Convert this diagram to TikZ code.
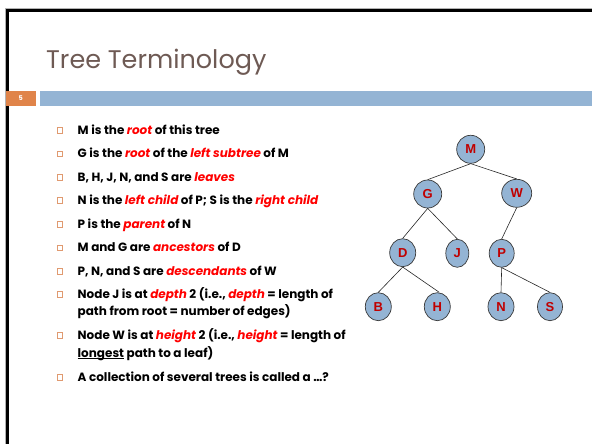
\documentclass[tikz,border=0pt]{standalone}
\usepackage{fontspec}
\setmainfont{Poppins}
\newfontfamily\arialfont{Liberation Sans}
\usetikzlibrary{shapes.geometric}
\definecolor{titlec}{HTML}{6E5A54}
\definecolor{barblue}{HTML}{94B4D4}
\definecolor{barorange}{HTML}{E0844A}
\definecolor{emred}{HTML}{FF0000}
\definecolor{bulc}{HTML}{E09A70}
\definecolor{nodefill}{HTML}{94B4D4}
\definecolor{nodeedge}{HTML}{3A3A3A}
\definecolor{nodetext}{HTML}{C00000}
\newcommand{\rd}[1]{{\color{emred}\itshape #1}}
\newcommand{\ulx}[1]{\setbox0\hbox{#1}\rlap{\rule[-1.8pt]{\wd0}{0.7pt}}\box0\relax}
\tikzset{
  txt/.style={anchor=base west, inner sep=0pt, font=\fontsize{12}{14}\selectfont\bfseries, text=black},
  bul/.style={draw=bulc, line width=0.6pt, minimum size=5.5pt, inner sep=0pt},
  tn/.style={ellipse, draw=nodeedge, line width=0.7pt, fill=nodefill, inner sep=0pt,
     minimum height=28pt, minimum width=26pt, font=\arialfont\bfseries\fontsize{13}{13}\selectfont, text=nodetext},
  edge/.style={draw=black!85, line width=0.6pt}
}
\begin{document}
\begin{tikzpicture}[x=1pt,y=-1pt]
\useasboundingbox (0,0) rectangle (592,444);
% frame
\draw[gray!60, line width=1pt] (5,444) -- (5,8.8) -- (592,8.8);
\draw[black, line width=2.6pt] (7.5,444) -- (7.5,10.5) -- (592,10.5);
% bars
\fill[barorange] (6,91) rectangle (36,106);
\fill[barblue] (40,91) rectangle (592,106);
\node[font=\bfseries\fontsize{6.5}{7}\selectfont, text=white, inner sep=0pt] (num) at (20.7,98.5) {5};
% title
\node[anchor=base west, inner sep=0pt, font=\fontsize{25.5}{28}\selectfont, text=titlec] (title) at (46,69) {Tree Terminology};
% bullets text
\node[txt] (t1) at (77.5,134.3) {M is the \rd{root} of this tree};
\node[txt] (t2) at (77.5,157.5) {G is the \rd{root} of the \rd{left subtree} of M};
\node[txt] (t3) at (77.5,181) {B, H, J, N, and S are \rd{leaves}};
\node[txt] (t4) at (77.5,204.3) {N is the \rd{left child} of P; S is the \rd{right child}};
\node[txt] (t5) at (77.5,228) {P is the \rd{parent} of N};
\node[txt] (t6) at (77.5,251.5) {M and G are \rd{ancestors} of D};
\node[txt] (t7) at (77.5,275) {P, N, and S are \rd{descendants} of W};
\node[txt] (t8) at (77.5,298.3) {Node J is at \rd{depth} 2 (i.e., \rd{depth} = length of};
\node[txt] (t8b) at (77.5,315) {path from root = number of edges)};
\node[txt] (t9) at (77.5,339) {Node W is at \rd{height} 2 (i.e., \rd{height} = length of};
\node[txt] (t9b) at (77.5,357) {\ulx{longest} path to a leaf)};
\node[txt] (t10) at (77.5,381) {A collection of several trees is called a \dots?};
\foreach \y [count=\i] in {134.3,157.5,181,204.3,228,251.5,275,298.3,339,381}
  \node[bul] (b\i) at (60,\y-3.8) {};
% tree
\node[tn, minimum width=28pt] (M) at (470.7,149.3) {M};
\node[tn, minimum width=28pt] (G) at (427.7,194) {G};
\node[tn, minimum width=30pt] (W) at (516.7,193.3) {W};
\node[tn] (D) at (402.7,252.7) {D};
\node[tn, minimum width=23pt] (J) at (457.3,253.3) {J};
\node[tn, minimum width=25pt] (P) at (501.7,253.3) {P};
\node[tn] (B) at (378.3,306.7) {B};
\node[tn] (H) at (437.3,306.7) {H};
\node[tn] (N) at (501,306.7) {N};
\node[tn, minimum width=25pt] (S) at (550,306.7) {S};
\draw[edge] (M.south) -- (G.north);
\draw[edge] (M.south) -- (W.north);
\draw[edge] (G.south) -- (D.north);
\draw[edge] (G.south) -- (J.north);
\draw[edge] (W.south) -- (P.north);
\draw[edge] (D.south) -- (B.north);
\draw[edge] (D.south) -- ([xshift=2pt]H.north);
\draw[edge] (P.south) -- (N.north);
\draw[edge] (P.south) -- (S.north);
\end{tikzpicture}
\end{document}
